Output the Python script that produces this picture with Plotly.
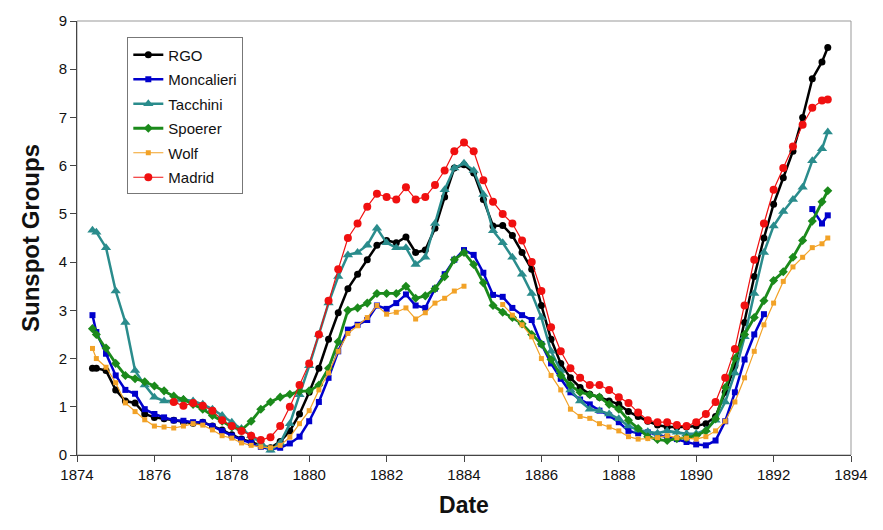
import plotly.graph_objects as go

# Dates: first point, quarterly grid, final point
dates = [1874.4] + [1874.5 + 0.25 * i for i in range(76)] + [1893.4]

N = None
rgo = [1.8, 1.8, 1.75,
       1.35, 1.12, 1.08, 0.85,
       0.78, 0.75, 0.72, 0.68,
       0.66, 0.68, 0.6, 0.52,
       0.42, 0.33, 0.27, 0.2,
       0.15, 0.28, 0.5, 0.85,
       1.3, 1.8, 2.4, 2.95,
       3.45, 3.75, 4.05, 4.35,
       4.45, 4.4, 4.52, 4.2,
       4.25, 4.7, 5.35, 5.95,
       6.02, 5.85, 5.3, 4.75,
       4.76, 4.55, 4.2, 3.85,
       3.1, 2.4, 1.9, 1.6,
       1.4, 1.26, 1.2, 1.12,
       1.05, 0.9, 0.8, 0.7,
       0.62, 0.58, 0.58, 0.58,
       0.6, 0.65, 0.8, 1.3,
       1.85, 2.75, 3.7, 4.5,
       5.2, 5.75, 6.3, 7.0,
       7.8, 8.15, 8.45]

moncalieri = [2.9, 2.55, 2.1,
              1.65, 1.35, 1.27, 0.95,
              0.85, 0.78, 0.72, 0.71,
              0.68, 0.68, 0.6, 0.5,
              0.4, 0.32, 0.25, 0.17,
              0.12, 0.15, 0.24, 0.38,
              0.7, 1.1, 1.6, 2.15,
              2.6, 2.7, 2.8, 3.1,
              3.03, 3.15, 3.33, 3.1,
              3.05, 3.45, 3.75, 4.05,
              4.25, 4.15, 3.78, 3.32,
              3.28, 3.05, 2.9, 2.8,
              2.3, 1.9, 1.58, 1.3,
              1.15, 1.05, 0.92, 0.82,
              0.68, 0.5, 0.45, 0.47,
              0.42, 0.37, 0.33, 0.27,
              0.22, 0.2, 0.3, 0.7,
              1.3, 1.98, 2.5, 2.92,
              N, N, N, N,
              5.1, 4.8, 4.97]

tacchini = [4.66, 4.62, 4.3,
            3.4, 2.75, 1.75, 1.45,
            1.2, 1.12, 1.12, 1.15,
            1.12, 1.05, 0.95, 0.82,
            0.68, 0.55, 0.4, 0.25,
            0.1, 0.25, 0.65, 1.25,
            1.85, 2.5, 3.15, 3.7,
            4.15, 4.2, 4.35, 4.7,
            4.4, 4.3, 4.3, 3.95,
            4.1, 4.8, 5.5, 5.95,
            6.05, 5.9, 5.4, 4.65,
            4.4, 4.1, 3.75, 3.35,
            2.85, 2.15, 1.75, 1.35,
            1.12, 0.95, 0.92, 0.85,
            0.75, 0.6, 0.52, 0.48,
            0.45, 0.5, 0.47, 0.44,
            0.44, 0.52, 0.72, 1.1,
            1.7, 2.45, 3.35, 4.2,
            4.75, 5.05, 5.3, 5.55,
            6.1, 6.35, 6.7]

spoerer = [2.62, 2.5, 2.22,
           1.9, 1.65, 1.58, 1.52,
           1.43, 1.33, 1.22, 1.15,
           1.05, 0.95, 0.82, 0.7,
           0.58, 0.52, 0.7, 0.95,
           1.1, 1.2, 1.26, 1.32,
           1.33, 1.45, 1.8, 2.35,
           3.0, 3.05, 3.15, 3.35,
           3.35, 3.35, 3.5, 3.25,
           3.3, 3.45, 3.7, 4.05,
           4.2, 3.95, 3.57, 3.1,
           2.96, 2.85, 2.72, 2.5,
           2.3, 1.98, 1.65, 1.45,
           1.3, 1.25, 1.2, 1.05,
           0.95, 0.72, 0.55, 0.38,
           0.32, 0.3, 0.34, 0.36,
           0.4, 0.5, 0.75, 1.4,
           2.0, 2.5, 2.85, 3.2,
           3.62, 3.8, 4.1, 4.45,
           4.85, 5.25, 5.48]

wolf = [2.21, 2.0, 1.82,
        1.5, 1.08, 0.9, 0.73,
        0.6, 0.58, 0.56, 0.6,
        0.65, 0.62, 0.52, 0.4,
        0.35, 0.25, 0.2, 0.17,
        0.15, 0.2, 0.37, 0.65,
        0.92, 1.35, 1.7, 2.15,
        2.52, 2.68, 2.85, 3.1,
        2.92, 2.96, 3.05, 2.82,
        2.95, 3.15, 3.25, 3.4,
        3.5, N, N, N,
        3.12, 2.9, 2.7, 2.45,
        2.0, 1.65, 1.35, 0.95,
        0.8, 0.76, 0.65, 0.58,
        0.5, 0.38, 0.33, 0.34,
        0.36, 0.4, 0.36, 0.35,
        0.33, 0.38, 0.5, 0.7,
        1.1, 1.6, 2.15, 2.7,
        3.15, 3.6, 3.9, 4.1,
        4.3, 4.38, 4.5]

madrid = [N, N, N,
          N, N, N, N,
          N, N, 1.1, 1.02,
          1.08, 1.02, 0.92, 0.72,
          0.6, 0.5, 0.4, 0.31,
          0.37, 0.6, 1.0, 1.45,
          1.9, 2.5, 3.2, 3.85,
          4.5, 4.8, 5.15, 5.42,
          5.35, 5.3, 5.55, 5.3,
          5.35, 5.6, 5.9, 6.3,
          6.48, 6.3, 5.7, 5.25,
          5.0, 4.8, 4.45, 4.0,
          3.4, 2.65, 2.15, 1.8,
          1.6, 1.45, 1.45, 1.35,
          1.2, 1.08, 0.88, 0.72,
          0.68, 0.68, 0.62, 0.6,
          0.68, 0.85, 1.1, 1.6,
          2.2, 3.1, 4.05, 4.8,
          5.5, 5.95, 6.4, 6.85,
          7.2, 7.35, 7.37]

series = [
    ("RGO", rgo, "#000000", 2.5, "circle", 7),
    ("Moncalieri", moncalieri, "#0000cc", 2.5, "square", 6),
    ("Tacchini", tacchini, "#2a8c8c", 2.5, "triangle-up", 9),
    ("Spoerer", spoerer, "#1b8a1b", 2.8, "diamond", 7),
    ("Wolf", wolf, "#f2a227", 1.2, "square", 5),
    ("Madrid", madrid, "#f01010", 1.2, "circle", 8),
]

fig = go.Figure()
for name, vals, color, lw, sym, ms in series:
    fig.add_trace(go.Scatter(
        x=dates, y=vals, name=name, mode="lines+markers",
        line=dict(color=color, width=lw),
        marker=dict(color=color, symbol=sym, size=ms, line=dict(width=0)),
        connectgaps=False, legendgroup=name,
    ))

fig.update_layout(
    width=883, height=530,
    margin=dict(l=77, r=32, t=14, b=75),
    paper_bgcolor="white", plot_bgcolor="white",
    font=dict(family="Liberation Sans, Arial, sans-serif", color="#111"),
    showlegend=True,
    legend=dict(
        x=0.065, y=0.962, xanchor="left", yanchor="top",
        bgcolor="white", bordercolor="#777", borderwidth=1,
        font=dict(size=15, color="#111"),
        traceorder="grouped", tracegroupgap=2,
    ),
    xaxis=dict(
        range=[1874, 1894], dtick=2, tick0=1874,
        showgrid=False, zeroline=False,
        showline=True, linecolor="#444", linewidth=1,
        ticks="outside", ticklen=6, tickcolor="#444",
        tickfont=dict(size=15),
        title=dict(text="<b>Date</b>", font=dict(size=23), standoff=14),
    ),
    yaxis=dict(
        range=[0, 9], dtick=1, tick0=0,
        showgrid=False, zeroline=False,
        showline=True, linecolor="#444", linewidth=1,
        ticks="outside", ticklen=6, tickcolor="#444",
        tickfont=dict(size=15),
        title=dict(text="<b>Sunspot Groups</b>", font=dict(size=24), standoff=12),
    ),
    shapes=[dict(type="rect", xref="paper", yref="paper", x0=0, y0=0, x1=1, y1=1,
                 line=dict(color="#999", width=1), layer="below")],
)

fig.write_html("out.html")
